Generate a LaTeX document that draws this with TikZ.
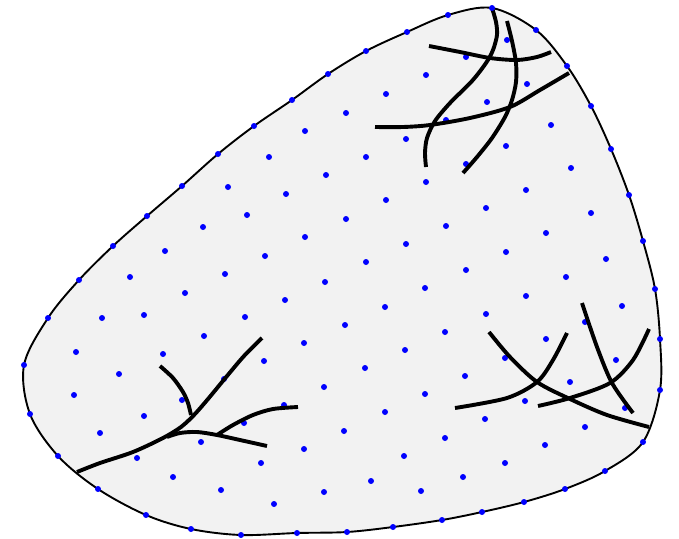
\documentclass[tikz,border=0pt]{standalone}
\usepackage{tikz}

\begin{document}
\begin{tikzpicture}[
    x=1pt, y=-1pt,
    blob/.style={
        draw=black,
        line width=1.9pt,
        fill=black!5
    },
    crack/.style={
        draw=black,
        line width=3.9pt
    },
    node dot/.style={
        fill=blue
    }
]
\useasboundingbox (0,0) rectangle (679,538);

% Contorno del dominio
\path[blob] plot[smooth cycle, tension=0.55] coordinates {
    (24,365) (48,318) (79,280) (113,246) (147,216) (182,186) (218,154)
    (254,126) (292,100) (328,74) (366,51) (407,32) (448,15) (492,8)
    (536,30) (567,66) (591,106) (611,149) (629,195) (643,241) (655,289)
    (660,339) (660,390) (643,442) (605,471) (565,489) (524,502) (482,512)
    (442,520) (393,527) (347,532) (297,533) (241,535) (191,529) (146,515)
    (98,489) (58,456) (30,414)};

% Nodos interiores
\foreach \x/\y in {
    228/187, 269/157, 305/131, 346/113, 386/94, 426/75, 466/57, 507/40,
    130/277, 165/251, 203/227, 247/215, 286/194, 326/175, 366/157, 406/139,
    446/120, 487/102, 527/84,
    76/352, 102/318, 144/315, 185/293, 225/274, 265/256, 305/237, 346/219,
    386/200, 426/182, 466/164, 506/146, 551/125,
    74/395, 119/374, 163/354, 204/336, 245/317, 285/300, 325/282, 366/262,
    406/244, 446/226, 486/208, 526/190, 571/168,
    100/433, 144/416, 182/400, 224/379, 264/361, 304/343, 345/325, 385/307,
    425/288, 466/270, 506/252, 546/233, 591/213,
    137/458, 201/442, 244/423, 284/405, 324/387, 365/368, 405/350, 445/332,
    486/314, 526/296, 566/277, 606/259,
    173/477, 221/490, 261/463, 304/449, 344/431, 385/412, 425/394, 465/376,
    505/358, 546/339, 585/322, 622/306,
    274/504, 324/492, 371/481, 404/456, 445/438, 485/419, 525/401, 570/382,
    616/360,
    421/491, 463/477, 505/463, 545/445, 585/427, 625/408}
    \fill[node dot] (\x,\y) circle[radius=3pt];

% Grietas superiores
\draw[crack] plot[smooth] coordinates {(492,8) (496,22) (497,35) (493,50)
    (486,63) (472,81) (450,103) (435,121) (427,138) (425,153) (426,167)};
\draw[crack] plot[smooth] coordinates {(507,21) (512,41) (516,63) (516,82)
    (512,100) (505,117) (492,138) (477,157) (463,173)};
\draw[crack] plot[smooth] coordinates {(429,46) (460,52) (490,58) (517,60)
    (537,57) (551,52)};
\draw[crack] plot[smooth] coordinates {(375,127) (403,127) (430,125)
    (470,118) (510,107) (540,90) (569,73)};

% Grietas inferiores izquierda
\draw[crack] plot[smooth] coordinates {(77,472) (100,463) (133,452)
    (163,438) (181,427) (194,415) (208,399) (227,376) (244,356) (262,338)};
\draw[crack] plot[smooth] coordinates {(160,366) (173,378) (183,392)
    (188,403) (191,415)};
\draw[crack] plot[smooth] coordinates {(167,437) (180,433) (197,432)
    (217,435) (240,440) (267,446)};
\draw[crack] plot[smooth] coordinates {(217,435) (233,425) (253,415)
    (273,409) (298,407)};

% Grietas inferiores derecha
\draw[crack] plot[smooth] coordinates {(489,332) (510,357) (537,382)
    (570,399) (607,415) (649,427)};
\draw[crack] plot[smooth] coordinates {(455,408) (507,398) (537,382)
    (553,360) (567,333)};
\draw[crack] plot[smooth] coordinates {(538,406) (570,398) (610,383)
    (633,360) (649,329)};
\draw[crack] plot[smooth] coordinates {(582,303) (597,347) (612,383)
    (633,413)};

% Nodos del contorno
\foreach \x/\y in {
    24/365, 48/318, 79/280, 113/246, 147/216, 182/186, 218/154, 254/126,
    292/100, 328/74, 366/51, 407/32, 448/15, 492/8, 536/30, 567/66,
    591/106, 611/149, 629/195, 643/241, 655/289, 660/339, 660/390, 643/442,
    605/471, 565/489, 524/502, 482/512, 442/520, 393/527, 347/532, 297/533,
    241/535, 191/529, 146/515, 98/489, 58/456, 30/414}
    \fill[node dot] (\x,\y) circle[radius=3pt];

\end{tikzpicture}
\end{document}
